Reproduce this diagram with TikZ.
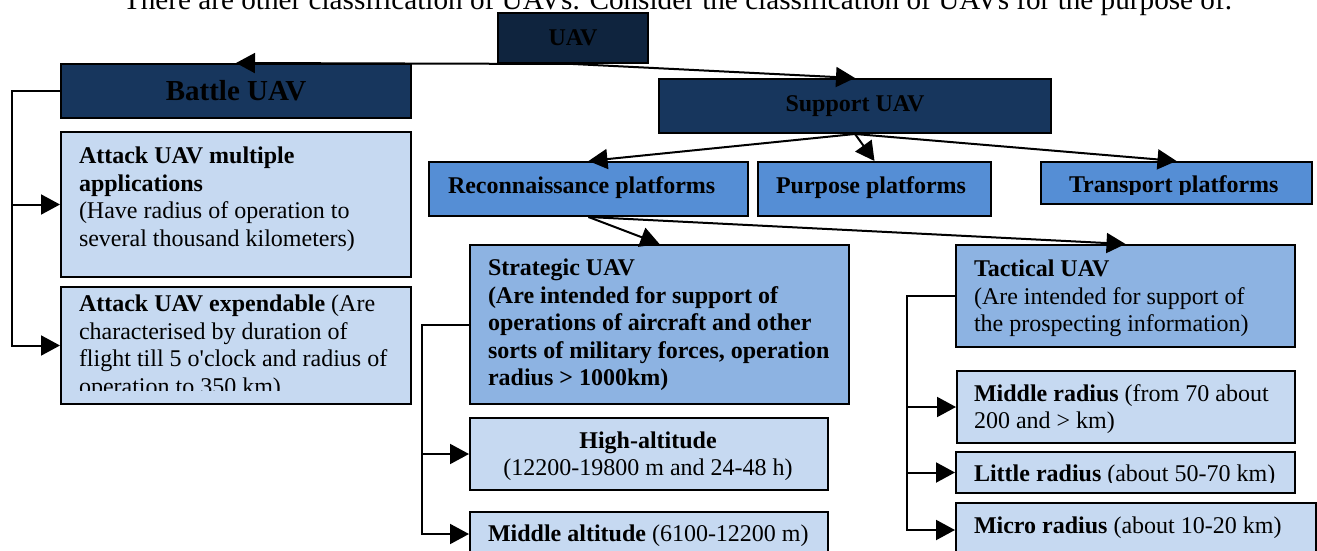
\documentclass[tikz,border=0pt]{standalone}
\usepackage{fontspec}
\setmainfont{Liberation Serif}
\usetikzlibrary{arrows.meta,positioning}

\definecolor{navydark}{HTML}{0F243E}
\definecolor{navy}{HTML}{17365D}
\definecolor{platblue}{HTML}{558ED5}
\definecolor{midblue}{HTML}{8DB3E2}
\definecolor{paleblue}{HTML}{C6D9F1}

\begin{document}
\begin{tikzpicture}[x=0.5pt,y=-0.5pt,>={Triangle[length=9.5pt,width=10pt]},line width=1pt,
    box/.style={draw=black,line width=1pt,anchor=north west,inner sep=0pt},
    head/.style={box,fill=navy,font=\bfseries\fontsize{12}{14}\selectfont},
    plat/.style={box,fill=platblue},
    kind/.style={box,fill=midblue},
    leaf/.style={box,fill=paleblue},
    txt/.style={anchor=base west,inner sep=0pt,align=left,font=\fontsize{12}{13.7}\selectfont}]

                \useasboundingbox (0,0) rectangle (1317,551);
                \clip (0,0) rectangle (1317,551);
                \fill[white] (0,0) rectangle (1317,551);

                \node[anchor=base west,inner sep=0pt,font=\fontsize{14.6}{18}\selectfont] (title) at (122,10)
                    {There are other classification of UAVs. Consider the classification of UAVs for the purpose of.};

                % top levels
                \node[head,fill=navydark,minimum width=75pt,minimum height=25pt] (uav) at (497,12) {UAV};

                \node[head,minimum width=175pt,minimum height=27pt,font=\bfseries\fontsize{14.5}{16}\selectfont] (battle) at (60,63) {Battle UAV};

                \node[head,minimum width=196pt,minimum height=27pt] (support) at (658,78) {Support UAV};

                % platforms
                \node[plat,minimum width=159.5pt,minimum height=27pt] (recon) at (428,161) {};
                \node[txt,font=\bfseries\fontsize{12}{13.7}\selectfont] (recon-t) at (447,193) {Reconnaissance platforms};

                \node[plat,minimum width=116.5pt,minimum height=27pt] (purpose) at (757,161) {};
                \node[txt,font=\bfseries\fontsize{12}{13.7}\selectfont] (purpose-t) at (775,193) {Purpose platforms};

                \node[plat,minimum width=135.5pt,minimum height=21pt] (transport) at (1040,161) {};
                \begin{scope}
                    \clip (1040,161) rectangle (1311,194);
                    \node[txt,font=\bfseries\fontsize{12}{13.7}\selectfont] (transport-t) at (1068,192) {Transport platforms};
                \end{scope}

                % battle branch (base = last line)
                \node[leaf,minimum width=175pt,minimum height=72.5pt] (attmul) at (60,131) {};
                \node[txt] (attmul-t) at (78,246)
                    {\textbf{Attack UAV multiple}\\\textbf{applications}\\(Have radius of operation to\\several thousand kilometers)};

                \node[leaf,minimum width=175pt,minimum height=58.5pt] (attexp) at (60,286) {};
                \begin{scope}
                    \clip (60,286) rectangle (410,390);
                    \node[txt] (attexp-t) at (78,394)
                        {\textbf{Attack UAV expendable} (Are\\characterised by duration of\\flight till 5 o\textquotesingle clock and radius of\\operation to 350 km)};
                \end{scope}

                % reconnaissance branch
                \node[kind,minimum width=189.5pt,minimum height=79.5pt] (strat) at (469,244) {};
                \node[txt,font=\bfseries\fontsize{12}{13.7}\selectfont] (strat-t) at (487,385.5)
                    {Strategic UAV\\(Are intended for support of\\operations of aircraft and other\\sorts of military forces, operation\\radius > 1000km)};

                \node[leaf,minimum width=179pt,minimum height=36pt] (high) at (469,417) {};
                \node[txt,anchor=base,align=center] (high-t) at (648,475.5)
                    {\textbf{High-altitude}\\(12200-19800 m and 24-48 h)};

                \node[leaf,minimum width=179pt,minimum height=22pt] (midalt) at (469,511) {};
                \node[txt] (midalt-t) at (487,541) {\textbf{Middle altitude} (6100-12200 m)};

                \node[kind,minimum width=169.5pt,minimum height=51pt] (tact) at (955,244) {};
                \node[txt] (tact-t) at (973,331.5)
                    {\textbf{Tactical UAV}\\(Are intended for support of\\the prospecting information)};

                \node[leaf,minimum width=169pt,minimum height=36pt] (midrad) at (956,370) {};
                \node[txt] (midrad-t) at (973,428.5) {\textbf{Middle radius} (from 70 about\\200 and > km)};

                \node[leaf,minimum width=169.5pt,minimum height=20.5pt] (little) at (955,451) {};
                \begin{scope}
                    \clip (955,451) rectangle (1294,482);
                    \node[txt] (little-t) at (973,481) {\textbf{Little radius} (about 50-70 km)};
                \end{scope}

                \node[leaf,minimum width=180pt,minimum height=27pt] (micro) at (955,502) {};
                \node[txt] (micro-t) at (973,533) {\textbf{Micro radius} (about 10-20 km)};

                % connectors
                \foreach \from/\to in {uav/battle, uav/support, support/recon, support/purpose, support/transport, recon/strat, recon/tact}
                    {
                    \draw[->] (\from.south) -- (\to.north);
                    }

                \foreach \from/\to/\dx in {battle/attmul/48, battle/attexp/48, strat/high/47, strat/midalt/47, tact/midrad/48, tact/little/48, tact/micro/48}
                    {
                    \draw[->] (\from.west) -- ++(-\dx,0) |- (\to.west);
                    }

            \end{tikzpicture}
\end{document}
